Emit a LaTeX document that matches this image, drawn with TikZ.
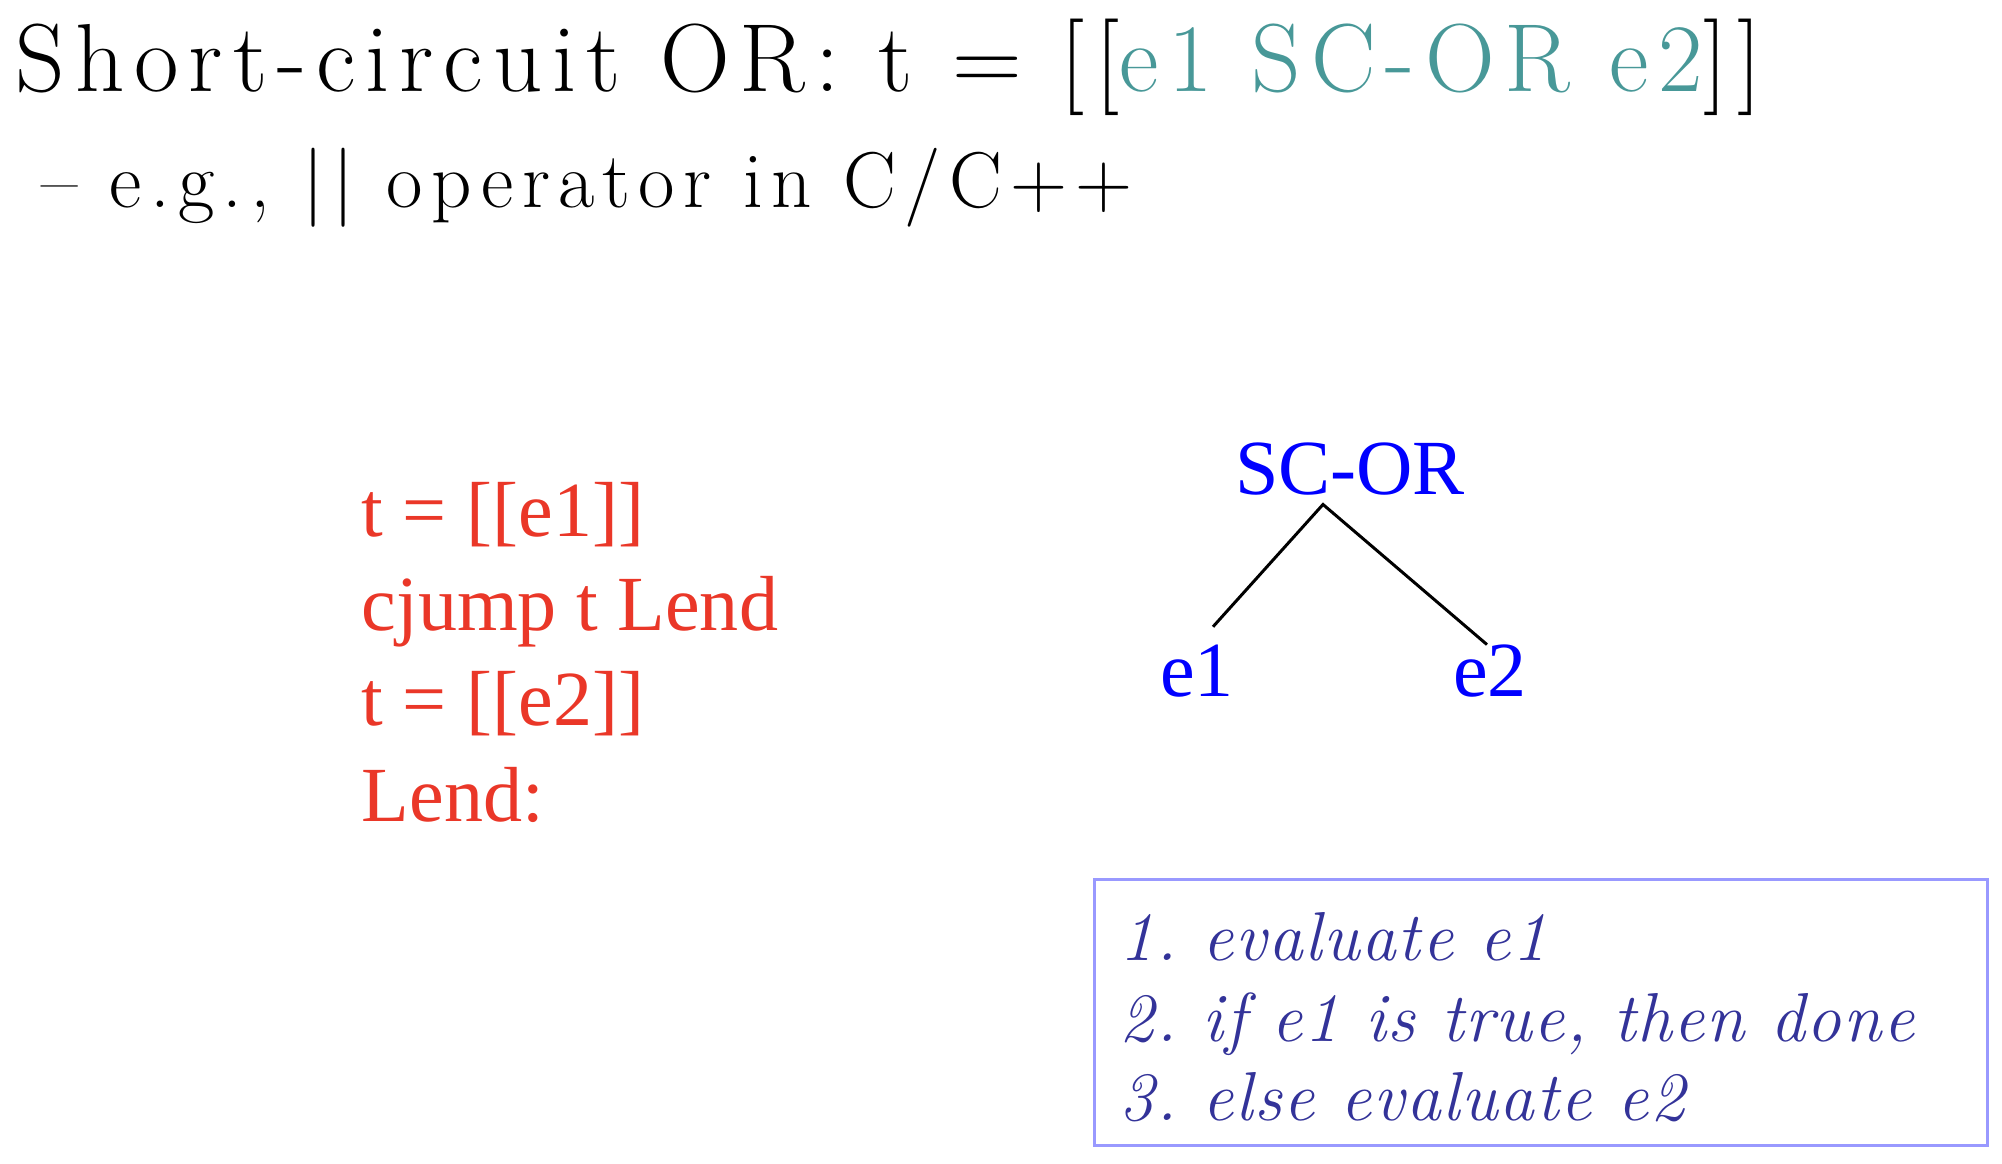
\documentclass[tikz,border=0pt]{standalone}
\usepackage{fontspec}
\setmainfont{Liberation Serif}
\newfontfamily\headfont[LetterSpace=10.3]{Latin Modern Roman}
\newfontfamily\stepfont[LetterSpace=2.4]{Latin Modern Roman}
\usetikzlibrary{positioning}
\definecolor{headteal}{RGB}{72,152,152}
\definecolor{codered}{RGB}{234,55,40}
\definecolor{treeblue}{RGB}{0,0,255}
\definecolor{stepblue}{RGB}{51,51,153}
\definecolor{boxline}{RGB}{153,153,255}

\begin{document}
\frenchspacing
\begin{tikzpicture}[x=0.01cm, y=-0.01cm,
    title/.style={anchor=base west, inner sep=0pt, font=\headfont\fontsize{27.5}{33}\selectfont},
    subtitle/.style={anchor=base west, inner sep=0pt, font=\headfont\fontsize{22.5}{27}\selectfont},
    codeline/.style={anchor=base west, inner sep=0pt, text=codered, font=\fontsize{22.2}{27}\selectfont},
    treenode/.style={anchor=base, inner sep=0pt, text=treeblue, font=\fontsize{22.2}{27}\selectfont},
    stepline/.style={anchor=base west, inner sep=0pt, text=stepblue, font=\stepfont\itshape\fontsize{19.7}{24}\selectfont}]
    \useasboundingbox (0,0) rectangle (2002,1164);

    % Heading
    \node[title] (head) at (15,92) {Short-circuit OR: t = [[\textcolor{headteal}{e1 SC-OR e2}]]};
    \node[subtitle] (sub) at (41,208) {– e.g., || operator in C/C++};

    % Translated code
    \node[codeline] (code1) at (361,537) {t = [[e1]]};
    \node[codeline] (code2) at (361,631) {cjump t Lend};
    \node[codeline] (code3) at (361,726) {t = [[e2]]};
    \node[codeline] (code4) at (361,821) {Lend:};

    % Expression tree
    \node[treenode] (scor) at (1350,495) {SC-OR};
    \node[treenode] (e1) at (1197,696) {e1};
    \node[treenode] (e2) at (1490,696) {e2};
    \draw[line width=0.85pt] ([shift={(16,-17)}]e1.north) -- ([shift={(-27,8)}]scor.south) -- ([shift={(-3,1)}]e2.north);

    % Evaluation order
    \node[draw=boxline, line width=0.85pt, minimum width=8.92cm, minimum height=2.65cm, inner sep=0pt] (steps) at (1541,1012.5) {};
    \node[stepline] (step1) at (1119,960) {1. evaluate e1};
    \node[stepline] (step2) at (1119,1041) {2. if e1 is true, then done};
    \node[stepline] (step3) at (1119,1120) {3. else evaluate e2};
\end{tikzpicture}
\end{document}
